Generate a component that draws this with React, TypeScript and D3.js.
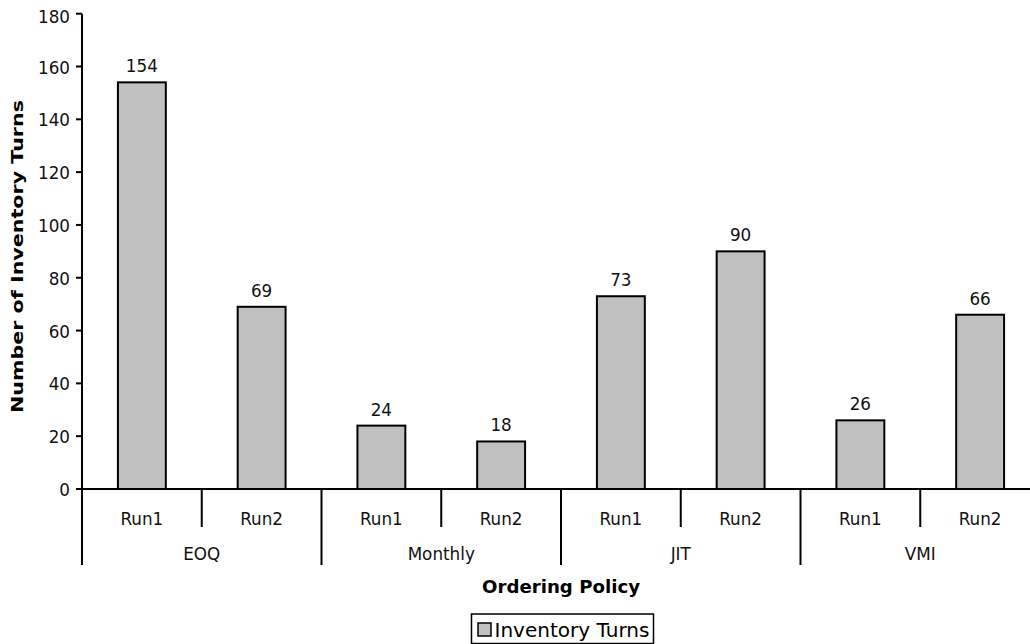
import React from "react";
import * as d3 from "d3";

// Inventory turns per ordering policy and run
const policies = ["EOQ", "Monthly", "JIT", "VMI"];
const runs = ["Run1", "Run2"];
const turns = [154, 69, 24, 18, 73, 90, 26, 66];
const yTicks = [0, 20, 40, 60, 80, 100, 120, 140, 160, 180];
const seriesName = "Inventory Turns";
const xTitle = "Ordering Policy";
const yTitle = "Number of Inventory Turns";

const W = 1030;
const H = 644;
const left = 82;
const right = 1040;
const top = 13.7;
const baseY = 489;
const font = "'DejaVu Sans', Verdana, sans-serif";
const fs = 16.8;

export default function App() {
  const cats = policies.flatMap((p) => runs.map((r) => `${p}|${r}`));
  const x = d3.scaleBand<string>().domain(cats).range([left, right]).padding(0);
  const bw = x.bandwidth();
  const barW = bw * 0.4;
  const y = d3.scaleLinear().domain([0, 180]).range([baseY, top]);

  return (
    <svg
      width={W}
      height={H}
      style={{ position: "absolute", left: 0, top: 0, background: "#fff" }}
      fontFamily={font}
    >
      {/* bars */}
      {cats.map((c, i) => (
        <rect
          key={c}
          x={(x(c) as number) + (bw - barW) / 2}
          y={y(turns[i])}
          width={barW}
          height={baseY - y(turns[i])}
          fill="#C0C0C0"
          stroke="#000"
          strokeWidth={2}
        />
      ))}
      {/* value labels */}
      {cats.map((c, i) => (
        <text
          key={"v" + c}
          x={(x(c) as number) + bw / 2}
          y={y(turns[i]) - 10}
          textAnchor="middle"
          fontSize={fs}
          fill="#111"
        >
          {turns[i]}
        </text>
      ))}

      {/* y axis */}
      <line x1={left} x2={left} y1={top} y2={565} stroke="#000" strokeWidth={2} />
      {yTicks.map((t) => (
        <g key={t}>
          <line x1={left - 6} x2={left} y1={y(t)} y2={y(t)} stroke="#000" strokeWidth={2} />
          <text
            x={70}
            y={Math.max(y(t) + 2, 18)}
            textAnchor="end"
            dominantBaseline="middle"
            fontSize={fs}
            fill="#111"
          >
            {t}
          </text>
        </g>
      ))}

      {/* x axis with two-level categories */}
      <line x1={left} x2={right} y1={baseY} y2={baseY} stroke="#000" strokeWidth={2} />
      {cats.map((c, i) => {
        const x0 = x(c) as number;
        const isGroupEdge = i % runs.length === 0;
        return (
          <g key={"x" + c}>
            {!isGroupEdge && (
              <line x1={x0} x2={x0} y1={baseY} y2={527} stroke="#000" strokeWidth={2} />
            )}
            {isGroupEdge && i > 0 && (
              <line x1={x0} x2={x0} y1={baseY} y2={565} stroke="#000" strokeWidth={2} />
            )}
            <text x={x0 + bw / 2} y={525} textAnchor="middle" fontSize={fs} fill="#111">
              {c.split("|")[1]}
            </text>
          </g>
        );
      })}
      {policies.map((p) => {
        const x0 = x(`${p}|${runs[0]}`) as number;
        return (
          <text
            key={p}
            x={x0 + bw * runs.length / 2}
            y={560}
            textAnchor="middle"
            fontSize={fs}
            fill="#111"
          >
            {p}
          </text>
        );
      })}

      {/* axis titles */}
      <text
        x={(left + right) / 2}
        y={593}
        textAnchor="middle"
        fontSize={17}
        fontWeight="bold"
        textLength={158}
        lengthAdjust="spacingAndGlyphs"
        fill="#000"
      >
        {xTitle}
      </text>
      <text
        transform={`translate(22.5, ${(100 + 413) / 2}) rotate(-90)`}
        textAnchor="middle"
        fontSize={16}
        fontWeight="bold"
        textLength={313}
        lengthAdjust="spacingAndGlyphs"
        fill="#000"
      >
        {yTitle}
      </text>

      {/* legend */}
      <rect x={471.5} y={614} width={182} height={29.5} fill="#fff" stroke="#000" strokeWidth={1.5} />
      <rect x={478} y={623} width={13} height={13} fill="#C0C0C0" stroke="#000" strokeWidth={1.5} />
      <text
        x={494.5}
        y={636.5}
        fontSize={19}
        textLength={155}
        lengthAdjust="spacingAndGlyphs"
        fill="#000"
      >
        {seriesName}
      </text>
    </svg>
  );
}
